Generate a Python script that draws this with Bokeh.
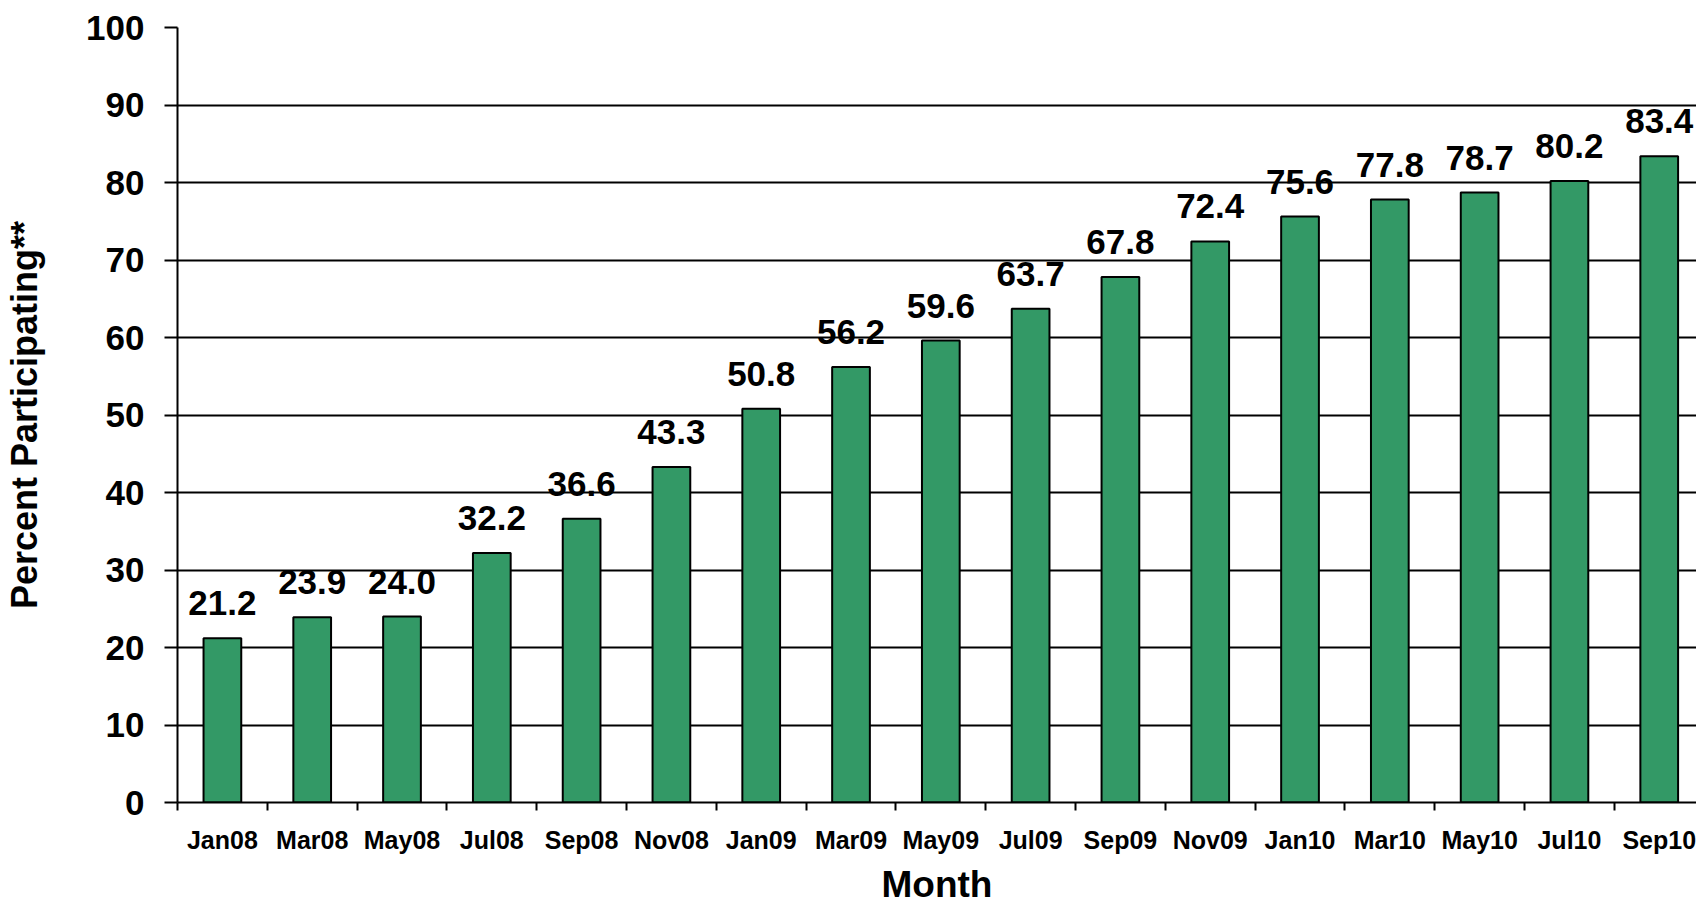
from bokeh.plotting import figure
from bokeh.models import Range1d, FixedTicker, ColumnDataSource, LabelSet
from bokeh.core.properties import value
from bokeh.embed import file_html
from bokeh.resources import INLINE
import numpy as np

months = ["Jan08", "Mar08", "May08", "Jul08", "Sep08", "Nov08", "Jan09", "Mar09", "May09",
          "Jul09", "Sep09", "Nov09", "Jan10", "Mar10", "May10", "Jul10", "Sep10"]
percent = [21.2, 23.9, 24.0, 32.2, 36.6, 43.3, 50.8, 56.2, 59.6,
           63.7, 67.8, 72.4, 75.6, 77.8, 78.7, 80.2, 83.4]
y_ticks = list(range(0, 101, 10))

FONT = "Liberation Sans"
n = len(months)
xs = np.arange(n) + 0.5
src = ColumnDataSource(dict(x=xs, v=percent, lab=[f"{v:.1f}" for v in percent]))

p = figure(width=1696, height=908, output_backend="svg", toolbar_location=None,
           x_range=Range1d(0, n - 0.085), y_range=Range1d(0, 100),
           min_border_left=177, min_border_right=0, min_border_top=27, min_border_bottom=106)
p.outline_line_color = None
p.background_fill_color = "white"
p.border_fill_color = "white"

p.vbar(x="x", top="v", width=0.42, source=src, fill_color="#339966",
       line_color="black", line_width=2)

p.add_layout(LabelSet(x="x", y="v", text="lab", source=src, text_align="center",
                      text_baseline="alphabetic", y_offset=23, text_font=value(FONT),
                      text_font_style=value("bold"), text_font_size=value("35px"),
                      text_color=value("black")))

# y axis
p.yaxis.ticker = FixedTicker(ticks=y_ticks)
p.yaxis.major_tick_out = 13
p.yaxis.major_tick_in = 0
p.yaxis.minor_tick_line_color = None
p.yaxis.major_tick_line_color = "black"
p.yaxis.major_tick_line_width = 2
p.yaxis.axis_line_color = "black"
p.yaxis.axis_line_width = 2
p.yaxis.major_label_text_font = FONT
p.yaxis.major_label_text_font_style = "bold"
p.yaxis.major_label_text_font_size = "35px"
p.yaxis.major_label_text_color = "black"
p.yaxis.major_label_standoff = 20
p.yaxis.axis_label = "Percent Participating**"
p.yaxis.axis_label_text_font = FONT
p.yaxis.axis_label_text_font_style = "bold"
p.yaxis.axis_label_text_font_size = "36px"
p.yaxis.axis_label_text_color = "black"
p.yaxis.axis_label_standoff = 38

# x axis
p.xaxis.ticker = FixedTicker(ticks=list(xs), minor_ticks=list(range(0, n + 1)))
p.xaxis.major_label_overrides = {float(x): m for x, m in zip(xs, months)}
p.xaxis.major_tick_line_color = None
p.xaxis.major_tick_out = 8
p.xaxis.major_tick_in = 0
p.xaxis.minor_tick_line_color = "black"
p.xaxis.minor_tick_line_width = 2
p.xaxis.minor_tick_out = 8
p.xaxis.minor_tick_in = 0
p.xaxis.axis_line_color = "black"
p.xaxis.axis_line_width = 2
p.xaxis.major_label_text_font = FONT
p.xaxis.major_label_text_font_style = "bold"
p.xaxis.major_label_text_font_size = "25px"
p.xaxis.major_label_text_color = "black"
p.xaxis.major_label_standoff = 15
p.xaxis.axis_label = "Month"
p.xaxis.axis_label_text_font = FONT
p.xaxis.axis_label_text_font_style = "bold"
p.xaxis.axis_label_text_font_size = "37px"
p.xaxis.axis_label_text_color = "black"
p.xaxis.axis_label_standoff = 7

p.xgrid.grid_line_color = None
p.ygrid.ticker = FixedTicker(ticks=y_ticks)
p.ygrid.grid_line_color = "black"
p.ygrid.grid_line_width = 2

open("out.html", "w").write(file_html(p, INLINE))
